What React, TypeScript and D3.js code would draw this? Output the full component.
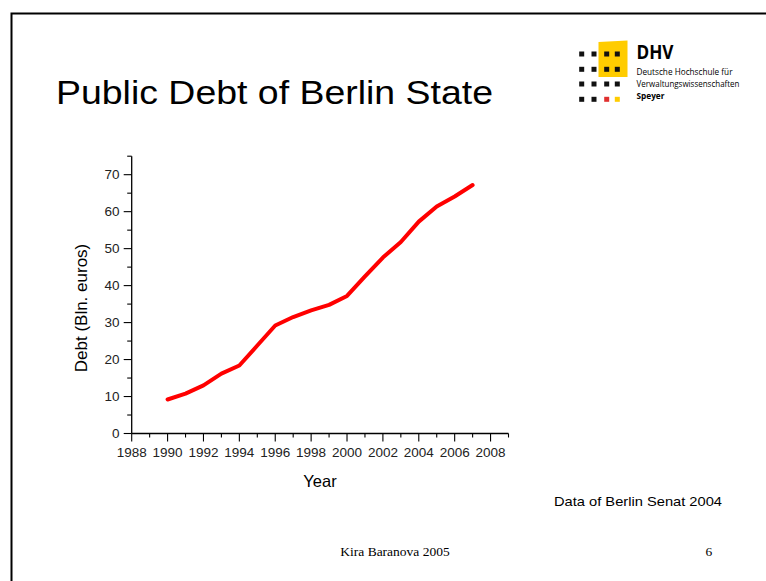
import React from "react";
import * as d3 from "d3";

const years = [1990, 1991, 1992, 1993, 1994, 1995, 1996, 1997, 1998, 1999, 2000, 2001, 2002, 2003, 2004, 2005, 2006, 2007];
const debt = [9.2, 10.8, 13.0, 16.2, 18.4, 23.8, 29.2, 31.5, 33.3, 34.8, 37.2, 42.5, 47.6, 51.8, 57.3, 61.4, 64.1, 67.2];
const xTicks = [1988, 1990, 1992, 1994, 1996, 1998, 2000, 2002, 2004, 2006, 2008];
const yTicks = [0, 10, 20, 30, 40, 50, 60, 70];

const title = "Public Debt of Berlin State";
const yLabel = "Debt (Bln. euros)";
const xLabel = "Year";
const source = "Data of Berlin Senat 2004";
const footer = "Kira Baranova 2005";
const pageNo = "6";

export default function App() {
  const x = d3.scaleLinear().domain([1988, 2009]).range([131.7, 508.5]);
  const y = d3.scaleLinear().domain([0, 75]).range([433.5, 156.2]);
  const xMinor = d3.range(1988, 2010, 1);
  const yMinor = d3.range(0, 76, 5);
  const line = d3
    .line<number>()
    .x((_, i) => x(years[i]))
    .y((d) => y(d));
  const f = "Arial, 'Liberation Sans', sans-serif";
  const lf = "'Open Sans', sans-serif";

  const sq = 5;
  const cols = [581.7, 594, 606.7, 617.3];
  const rows = [54, 69.3, 84, 99.3];

  return (
    <svg width={766} height={581} style={{ position: "absolute", left: 0, top: 0 }}>
      <rect x={0} y={0} width={766} height={581} fill="#fff" />
      <rect x={11.5} y={13.5} width={800} height={600} fill="none" stroke="#000" strokeWidth={2} />
      <text x={56} y={104} fontFamily={f} fontSize={33} fill="#000" textLength={437} lengthAdjust="spacingAndGlyphs">
        {title}
      </text>

      {/* logo */}
      <path d="M598.5,42 L627.5,40.5 L627.5,77 L598.5,77 Z" fill="#ffcc00" />
      {rows.map((ry, ri) =>
        cols.map((cx, ci) => {
          let fill = "#111";
          if (ri === 3 && ci === 2) fill = "#e0302f";
          if (ri === 3 && ci === 3) fill = "#ffcc00";
          return <rect key={`${ri}-${ci}`} x={cx - sq / 2} y={ry - sq / 2} width={sq} height={sq} fill={fill} />;
        })
      )}
      <text x={636.5} y={59} fontFamily={lf} fontWeight="bold" fontSize={19} fill="#000" textLength={37} lengthAdjust="spacingAndGlyphs">DHV</text>
      <text x={636.5} y={75} fontFamily={lf} fontSize={9} fill="#000" textLength={96} lengthAdjust="spacingAndGlyphs">Deutsche Hochschule für</text>
      <text x={636.5} y={86.5} fontFamily={lf} fontSize={9} fill="#000" textLength={103} lengthAdjust="spacingAndGlyphs">Verwaltungswissenschaften</text>
      <text x={636.5} y={99} fontFamily={lf} fontWeight="bold" fontSize={9} fill="#000" textLength={28} lengthAdjust="spacingAndGlyphs">Speyer</text>

      {/* axes */}
      <line x1={x(1988)} x2={x(2009)} y1={y(0)} y2={y(0)} stroke="#000" strokeWidth={1.3} />
      <line x1={x(1988)} x2={x(1988)} y1={y(0)} y2={y(75)} stroke="#000" strokeWidth={1.3} />
      {xMinor.map((t) => (
        <line key={`xm${t}`} x1={x(t)} x2={x(t)} y1={y(0)} y2={y(0) + (t % 2 === 0 ? 8 : 4)} stroke="#000" strokeWidth={1.1} />
      ))}
      {yMinor.map((t) => (
        <line key={`ym${t}`} x1={x(1988)} x2={x(1988) - (t % 10 === 0 ? 8 : 4.5)} y1={y(t)} y2={y(t)} stroke="#000" strokeWidth={1.1} />
      ))}
      {xTicks.map((t) => (
        <text key={`xt${t}`} x={x(t)} y={456.5} textAnchor="middle" fontFamily={f} fontSize={13.5} fill="#222">
          {t}
        </text>
      ))}
      {yTicks.map((t) => (
        <text key={`yt${t}`} x={119.5} y={y(t) + 4.8} textAnchor="end" fontFamily={f} fontSize={13.5} fill="#222">
          {t}
        </text>
      ))}
      <text transform={`translate(87,308) rotate(-90)`} textAnchor="middle" fontFamily={f} fontSize={17} fill="#000">
        {yLabel}
      </text>
      <text x={320} y={487} textAnchor="middle" fontFamily={f} fontSize={16.5} fill="#000">
        {xLabel}
      </text>

      <path d={line(debt) || ""} fill="none" stroke="#ff0000" strokeWidth={4} strokeLinejoin="round" strokeLinecap="round" />

      <text x={554} y={506} fontFamily={f} fontSize={13} fill="#000" textLength={168} lengthAdjust="spacingAndGlyphs">
        {source}
      </text>
      <text x={395} y={556} textAnchor="middle" fontFamily="'Liberation Serif', 'Times New Roman', serif" fontSize={13.5} fill="#000">
        {footer}
      </text>
      <text x={705.5} y={556} fontFamily="'Liberation Serif', 'Times New Roman', serif" fontSize={13.5} fill="#000">
        {pageNo}
      </text>
    </svg>
  );
}
